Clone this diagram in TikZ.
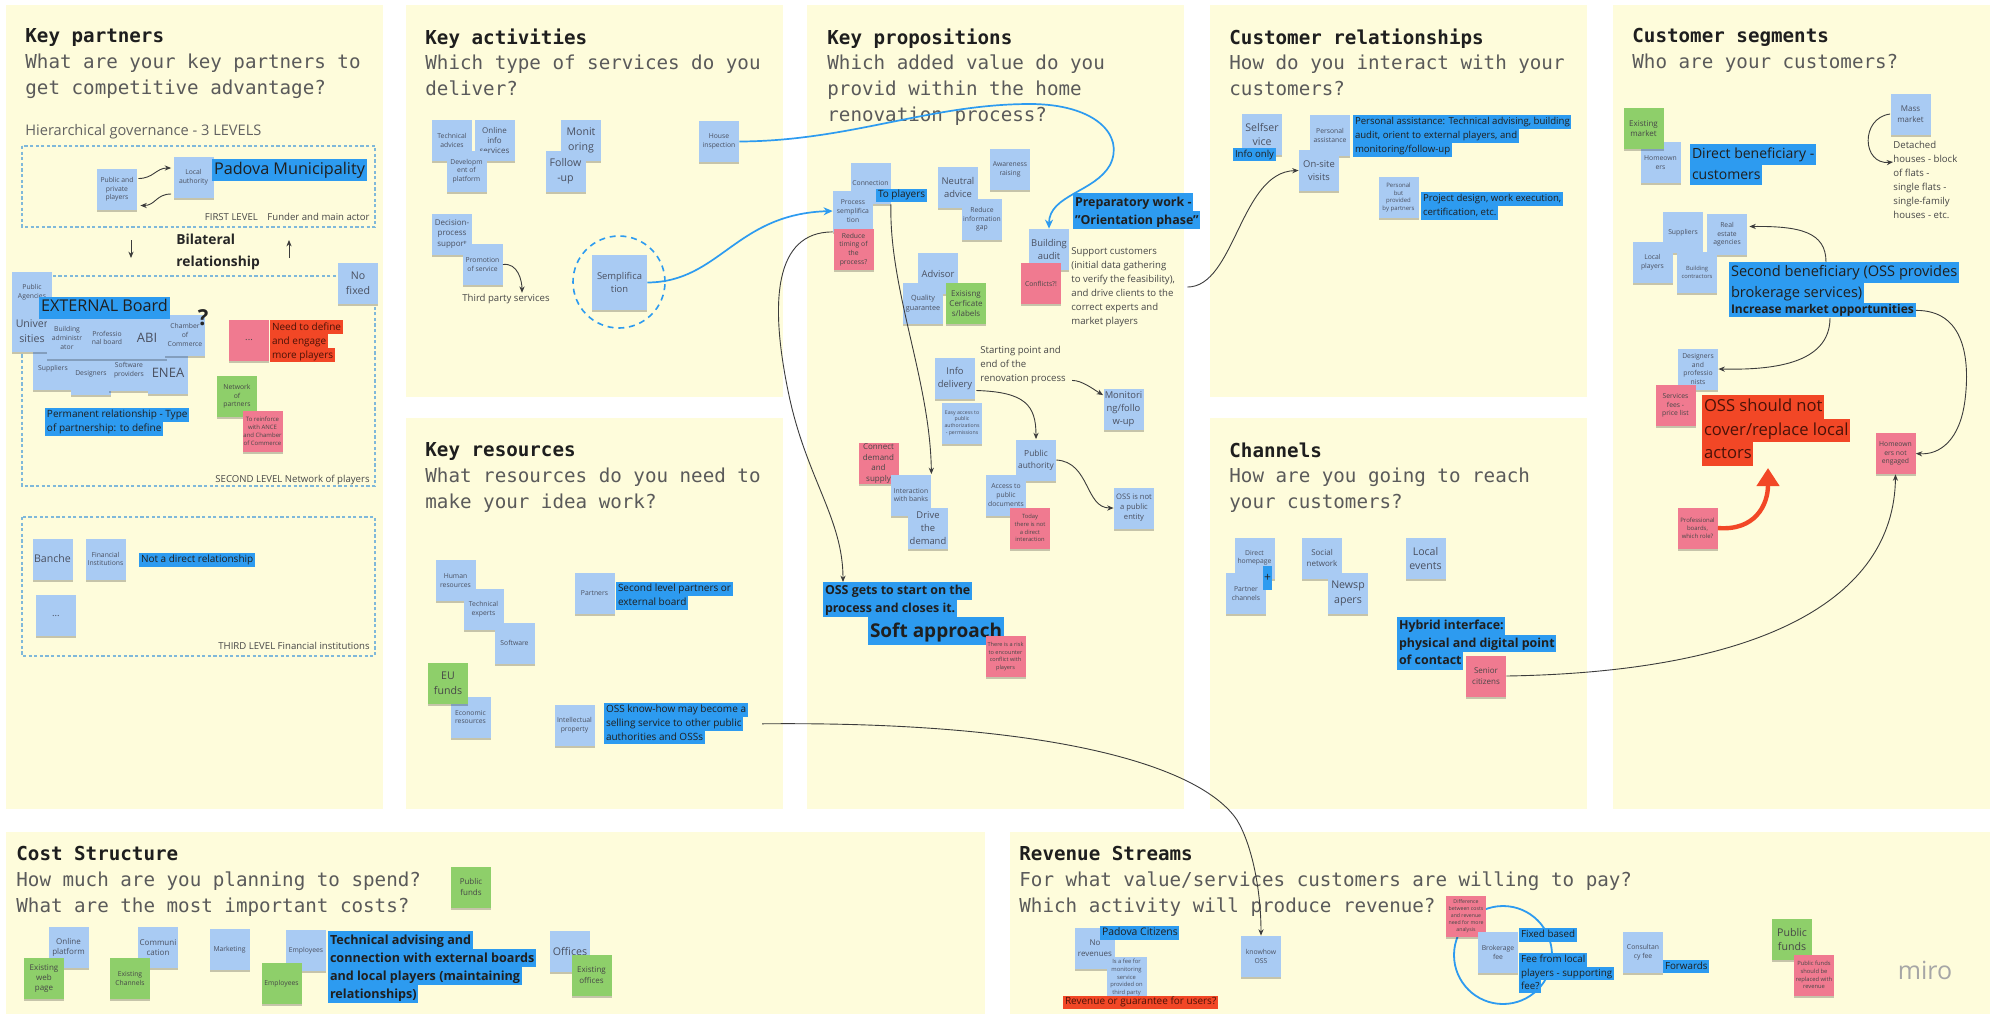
\documentclass[tikz,border=0pt]{standalone}
\usepackage{fontspec}
\setmainfont{Open Sans}
\newfontfamily\monofont{DejaVu Sans Mono}
\usetikzlibrary{arrows.meta,shadows,calc}
\setlength\fboxsep{0pt}
\definecolor{panel}{HTML}{FEFCDB}
\definecolor{stblue}{HTML}{A9CBF3}
\definecolor{stpink}{HTML}{F07A90}
\definecolor{stgreen}{HTML}{8ECF6A}
\definecolor{hlblue}{HTML}{2D9BF0}
\definecolor{hlred}{HTML}{F24726}
\definecolor{dashc}{HTML}{7FB8DA}
\definecolor{lineg}{HTML}{3C3C3C}
\definecolor{ttlc}{HTML}{1E1E1E}
\definecolor{subc}{HTML}{5A5A5A}
\definecolor{notetext}{HTML}{4A5060}
\definecolor{redtext}{HTML}{4A1208}
\newcommand\fsz[2]{\fontsize{#1}{#2}\selectfont}
\newcommand\hlB[1]{\colorbox{hlblue}{\strut\kern0.8pt#1\kern0.8pt}}
\newcommand\hlR[1]{\colorbox{hlred}{\strut\kern0.8pt#1\kern0.8pt}}
\tikzset{
 stnote/.style={rectangle, minimum width=20pt, minimum height=20.5pt, inner sep=0.3pt, align=center, text=notetext, font=\fsz{3.4}{4.3}, general shadow={fill=black, opacity=0.22, shadow yshift=-1.1pt}},
 stB/.style={stnote, fill=stblue},
 stP/.style={stnote, fill=stpink, text=black!72},
 stG/.style={stnote, fill=stgreen, text=black!72},
 fS/.style={font=\fsz{4}{5.2}},
 fM/.style={font=\fsz{4.7}{6.4}},
 fL/.style={font=\fsz{5.3}{7.4}},
 hlt/.style={anchor=north west, inner sep=0pt, align=left, text=black!88},
 hlw/.style={anchor=west, inner sep=0pt, text=black!88},
 lbltxt/.style={inner sep=0pt, text=black!72, font=\fsz{4.8}{7}},
 ttlnode/.style={anchor=north west, inner sep=0pt, align=left, font=\monofont\fsz{9.6}{12.9}, text=subc},
 gconn/.style={draw=lineg, line width=0.45pt, -{Stealth[length=3.2pt,width=2.6pt]}},
 bconn/.style={draw=hlblue, line width=0.85pt, -{Stealth[length=4.5pt,width=4pt]}},
 dbox/.style={draw=dashc, dash pattern=on 1.6pt off 1.2pt, line width=0.55pt},
}
\begin{document}
\begin{tikzpicture}[x=0.5pt,y=-0.5pt]
\useasboundingbox (0,0) rectangle (1992,1014);
\fill[white] (0,0) rectangle (1992,1014);
% panels
\fill[panel] (6,5) rectangle (383,809);
\fill[panel] (406,5) rectangle (783,397);
\fill[panel] (406,418) rectangle (783,809);
\fill[panel] (807,5) rectangle (1184,809);
\fill[panel] (1210,5) rectangle (1587,397);
\fill[panel] (1210,418) rectangle (1587,809);
\fill[panel] (1613,5) rectangle (1990,809);
\fill[panel] (6,832) rectangle (985,1014);
\fill[panel] (1010,832) rectangle (1990,1014);
% titles
\node[ttlnode] (tKP) at (25,28) {\textcolor{ttlc}{\bfseries Key partners}\\What are your key partners to\\get competitive advantage?};
\node[ttlnode] (tKA) at (425,28) {\textcolor{ttlc}{\bfseries Key activities}\\Which type of services do you\\deliver?};
\node[ttlnode] (tKR) at (425,442) {\textcolor{ttlc}{\bfseries Key resources}\\What resources do you need to\\make your idea work?};
\node[ttlnode] (tKV) at (827,28) {\textcolor{ttlc}{\bfseries Key propositions}\\Which added value do you\\provid within the home\\renovation process?};
\node[ttlnode] (tCR) at (1229,28) {\textcolor{ttlc}{\bfseries Customer relationships}\\How do you interact with your\\customers?};
\node[ttlnode] (tCH) at (1229,442) {\textcolor{ttlc}{\bfseries Channels}\\How are you going to reach\\your customers?};
\node[ttlnode] (tCS) at (1632,28) {\textcolor{ttlc}{\bfseries Customer segments}\\Who are your customers?};
\node[ttlnode] (tCO) at (16,846) {\textcolor{ttlc}{\bfseries Cost Structure}\\How much are you planning to spend?\\What are the most important costs?};
\node[ttlnode] (tRV) at (1019,846) {\textcolor{ttlc}{\bfseries Revenue Streams}\\For what value/services customers are willing to pay?\\Which activity will produce revenue?};

% ===== Key partners =====
\node[lbltxt, anchor=west, font=\fsz{7.3}{9}, text=black!62] (kpHier) at (25,132) {Hierarchical governance - 3 LEVELS};
\draw[dbox] (22,146) rectangle (375,227);
\draw[dbox] (22,276) rectangle (375,486);
\draw[dbox] (22,517) rectangle (375,656);
\node[stB] (kpPP) at (117,189.5) {Public and\\private\\players};
\node[stB] (kpLocal) at (193.5,177) {Local\\authority};
\node[hlw, font=\fsz{8.1}{11}] (kpPadova) at (212,170) {\hlB{Padova Municipality}};
\node[lbltxt, anchor=east] (kpL1) at (370,217) {FIRST LEVEL\quad Funder and main actor};
\coordinate (kpDn1) at (131,240); \coordinate (kpDn2) at (131,258);
\coordinate (kpUp1) at (289,258); \coordinate (kpUp2) at (289,240);
\node[anchor=north west, inner sep=0pt, align=left, font=\bfseries\fsz{6.9}{11}, text=black!85] (kpBil) at (176,234) {Bilateral\\relationship};
\node[stB, fL] (kpNoFixed) at (358,283) {No\\fixed};
\node[stB] (kpPubAg) at (32,292) {Public\\Agencies};
\node[stB] (kpSupp) at (53,369) {Suppliers};
\node[stB] (kpDesign) at (91,374) {Designers};
\node[stB] (kpSoft) at (129,370) {Software\\providers};
\node[stB, font=\fsz{6.5}{8}] (kpENEA) at (168,373) {ENEA};
\node[stB, fL] (kpUniv) at (32,331.5) {Univer\\sities};
\node[stB] (kpBuild) at (67,338) {Building\\administr\\ator};
\node[stB] (kpProf) at (107,338) {Professio\\nal board};
\node[stB, font=\fsz{6.5}{8}] (kpABI) at (147,338) {ABI};
\node[stB] (kpChamber) at (185,335) {Chamber\\of\\Commerce};
\node[hlw, font=\fsz{8.1}{11}] (kpExt) at (39,307.5) {\hlB{EXTERNAL Board}};
\node[inner sep=0pt, font=\bfseries\fsz{11}{13}, text=black!85] (kpQ) at (203,318) {?};
\node[stP, fM] (kpDots) at (249,340) {...};
\node[hlt, font=\fsz{5}{7}, text=redtext] (kpNeed) at (270,320) {\hlR{Need to define}\\\hlR{and engage}\\\hlR{more players}};
\node[stG] (kpNetwork) at (237,396.5) {Network\\of\\partners};
\node[stP, font=\fsz{3}{4}] (kpReinf) at (262.5,431) {To reinforce\\with ANCE\\and Chamber\\of Commerce};
\node[hlt, font=\fsz{5}{6.8}] (kpPerm) at (45,408) {\hlB{Permanent relationship - Type}\\\hlB{of partnership: to define}};
\node[lbltxt, anchor=east] (kpL2) at (370,480) {SECOND LEVEL Network of players};
\node[stB, fL] (kpBanche) at (52.5,559) {Banche};
\node[stB] (kpFin) at (105.5,559) {Financial\\Institutions};
\node[hlw, font=\fsz{5}{6.8}] (kpNotDirect) at (139,560) {\hlB{Not a direct relationship}};
\node[stB, fM] (kpDots2) at (56,615.5) {...};
\node[lbltxt, anchor=east] (kpL3) at (370,646) {THIRD LEVEL Financial institutions};

% ===== Key activities =====
\node[stB] (kaTech) at (452,140.5) {Technical\\advices};
\node[stB, fS] (kaOnline) at (494.5,140.5) {Online\\info\\services};
\node[stB] (kaDev) at (466.5,171) {Developm\\ent of\\platform};
\node[stB, fL] (kaMonit) at (581,140) {Monit\\oring};
\node[stB, fL] (kaFollow) at (565.5,171.5) {Follow\\-up};
\node[stB] (kaHouse) at (719,141.5) {House\\inspection};
\node[stB, fS] (kaDec) at (452,234) {Decision-\\process\\support};
\node[stB] (kaPromo) at (482.5,264.5) {Promotion\\of service};
\node[lbltxt] (kaThird) at (506,299) {Third party services};
\node[circle, draw=hlblue, dash pattern=on 3pt off 2.4pt, line width=0.8pt, minimum size=46pt, inner sep=0pt] (kaCircle) at (619,282) {};
\node[stB, fM, minimum width=27.5pt, minimum height=27.5pt] (kaSempl) at (619.5,282.5) {Semplifica\\tion};

% ===== Key resources =====
\node[stB] (krHuman) at (455.5,580.5) {Human\\resources};
\node[stB] (krTech) at (483.5,609.5) {Technical\\experts};
\node[stB] (krSoft) at (514.5,643) {Software};
\node[stB] (krEcon) at (470.5,717) {Economic\\resources};
\node[stG, fL] (krEU) at (448,683.5) {EU\\funds};
\node[stB] (krPartners) at (594.5,593.5) {Partners};
\node[hlt, font=\fsz{5}{6.8}] (krSecond) at (616,582) {\hlB{Second level partners or}\\\hlB{external board}};
\node[stB] (krIP) at (574.5,725) {Intellectual\\property};
\node[hlt, font=\fsz{5}{6.8}] (krOSS) at (604,703) {\hlB{OSS know-how may become a}\\\hlB{selling service to other public}\\\hlB{authorities and OSSs}};

% ===== Key propositions =====
\node[stB] (pConn) at (870.5,183.5) {Connection};
\node[stB] (pProc) at (853,211) {Process\\semplifica\\tion};
\node[hlw, font=\fsz{5}{6.5}] (pToPl) at (876,195) {\hlB{To players}};
\node[stP] (pReduce) at (853.5,249.5) {Reduce\\timing of\\the\\process?};
\node[stB, fM] (pNeutral) at (958,187.5) {Neutral\\advice};
\node[stB] (pAware) at (1010,169.5) {Awareness\\raising};
\node[stB] (pRedInfo) at (982,219.5) {Reduce\\information\\gap};
\node[stB, fM] (pAdvisor) at (938,273.5) {Advisor};
\node[stB, font=\fsz{3.6}{4.8}] (pQual) at (923,303.5) {Quality\\guarantee};
\node[stG, fS] (pExist) at (966,303.5) {Exisisng\\Cerficate\\s/labels};
\node[stB, fM] (pAudit) at (1049,249.5) {Building\\audit};
\node[stP] (pConfl) at (1041,283.5) {Conflicts?!};
\node[hlt, font=\bfseries\fsz{6.2}{9}] (pPrep) at (1073,193) {\hlB{Preparatory work -}\\\hlB{"Orientation phase"}};
\node[lbltxt, anchor=north west, align=left] (pSupport) at (1071,247) {Support customers\\(initial data gathering\\to verify the feasibility),\\and drive clients to the\\correct experts and\\market players};
\node[lbltxt, anchor=north west, align=left] (pStart) at (980,346) {Starting point and\\end of the\\renovation process};
\node[stB, fM] (pInfo) at (955,378.5) {Info\\delivery};
\node[stB, font=\fsz{2.6}{3.4}] (pEasy) at (962,423) {Easy access to\\public\\authorizations\\- permissions};
\node[stB, fM] (pMonFollow) at (1123.5,409) {Monitori\\ng/follo\\w-up};
\node[stB, font=\fsz{4.2}{6}] (pPublicAuth) at (1036,460) {Public\\authority};
\node[stB] (pAccess) at (1006,495) {Access to\\public\\documents};
\node[stP, font=\fsz{2.9}{3.9}] (pToday) at (1030,528) {Today\\there is not\\a direct\\interaction};
\node[stB, font=\fsz{3.8}{5}] (pNotPublic) at (1134,508) {OSS is not\\a public\\entity};
\node[stP, fS] (pConnect) at (878.5,463.5) {Connect\\demand\\and\\supply};
\node[stB] (pBanks) at (911,495) {Interaction\\with banks};
\node[stB, fM] (pDrive) at (928,528) {Drive\\the\\demand};
\node[hlt, font=\bfseries\fsz{6.2}{8.75}] (pOSSgets) at (823,582) {\hlB{OSS gets to start on the}\\\hlB{process and closes it.}};
\node[hlt, font=\bfseries\fsz{9.5}{14}] (pSoft) at (868,617) {\hlB{Soft approach}};
\node[stP, font=\fsz{2.8}{3.7}] (pRisk) at (1005.5,656.5) {There is a risk\\to encounter\\conflict with\\players};

% ===== Customer relationships =====
\node[stB, fL] (crSelf) at (1262,134.5) {Selfser\\vice};
\node[hlw, font=\fsz{4.8}{6.5}] (crInfo) at (1233,154.5) {\hlB{Info only}};
\node[stB] (crPers) at (1330,135.5) {Personal\\assistance};
\node[stB, fM] (crOnsite) at (1319,170.5) {On-site\\visits};
\node[hlt, font=\fsz{4.8}{6.85}] (crPA) at (1353,115) {\hlB{Personal assistance: Technical advising, building}\\\hlB{audit, orient to external players, and}\\\hlB{monitoring/follow-up}};
\node[stB, font=\fsz{3}{3.9}] (crPartners) at (1398.5,197.5) {Personal\\but\\provided\\by partners};
\node[hlt, font=\fsz{4.8}{6.8}] (crProj) at (1421,192) {\hlB{Project design, work execution,}\\\hlB{certification, etc.}};

% ===== Channels =====
\node[stB] (chDirect) at (1254.5,558) {Direct\\homepage};
\node[stB] (chPartner) at (1246,593.5) {Partner\\channels};
\node[fill=hlblue, minimum width=4.5pt, minimum height=12pt, inner sep=0pt, font=\fsz{6}{7}, text=black!85] (chPlus) at (1267.5,578) {+};
\node[stB, fS] (chSocial) at (1322,558) {Social\\network};
\node[stB, fL] (chNews) at (1348,593.5) {Newsp\\apers};
\node[stB, fL] (chLocal) at (1425.5,558.5) {Local\\events};
\node[hlt, font=\bfseries\fsz{6.2}{8.75}] (chHybrid) at (1397,617) {\hlB{Hybrid interface:}\\\hlB{physical and digital point}\\\hlB{of contact}};
\node[stP, fS] (chSenior) at (1486,676) {Senior\\citizens};

% ===== Customer segments =====
\node[stB] (csHomeowners) at (1660.5,162.5) {Homeown\\ers};
\node[stG, fS] (csExisting) at (1643.5,128.5) {Existing\\market};
\node[hlt, font=\fsz{7}{10.25}] (csDirect) at (1690,144) {\hlB{Direct beneficiary -}\\\hlB{customers}};
\node[stB, fS] (csMass) at (1910.5,114) {Mass\\market};
\node[lbltxt, anchor=north west, align=left] (csDetached) at (1893,141) {Detached\\houses - block\\of flats -\\single flats -\\single-family\\houses - etc.};
\node[stB] (csSupp) at (1683,232.5) {Suppliers};
\node[stB] (csReal) at (1727,234.5) {Real\\estate\\agencies};
\node[stB] (csLocal) at (1652.5,262.5) {Local\\players};
\node[stB, font=\fsz{2.9}{3.9}] (csBuild) at (1697,272) {Building\\contractors};
\node[hlt, font=\fsz{7.3}{10.25}] (csSecond) at (1729,262) {\hlB{Second beneficiary (OSS provides}\\\hlB{brokerage services)}};
\node[hlt, font=\bfseries\fsz{6}{7}] (csIncrease) at (1729,303) {\hlB{Increase market opportunities}};
\node[stB] (csDesign) at (1698,369) {Designers\\and\\professio\\nists};
\node[stP] (csServices) at (1675.5,405.5) {Services\\fees -\\price list};
\node[hlt, font=\fsz{8.3}{11.7}, text=redtext] (csOSSnot) at (1702,395) {\hlR{OSS should not}\\\hlR{cover/replace local}\\\hlR{actors}};
\node[stP] (csHomeNot) at (1895.5,453.5) {Homeown\\ers not\\engaged};
\node[stP, font=\fsz{3}{4}] (csProf) at (1697.5,528) {Professional\\boards,\\which role?};

% ===== Cost structure =====
\node[stG, fS] (coPublic) at (471,887) {Public\\funds};
\node[stB, fS] (coOnline) at (68.5,947.5) {Online\\platform};
\node[stG, fS] (coWeb) at (44,978.5) {Existing\\web\\page};
\node[stB, fS] (coComm) at (158,947.5) {Communi\\cation};
\node[stG] (coChan) at (130,978.5) {Existing\\Channels};
\node[stB] (coMark) at (229.5,949.5) {Marketing};
\node[stB] (coEmp) at (306,950.5) {Employees};
\node[stG] (coEmpG) at (281.5,983.5) {Employees};
\node[hlt, font=\bfseries\fsz{6.3}{9}] (coTech) at (328,931) {\hlB{Technical advising and}\\\hlB{connection with external boards}\\\hlB{and local players (maintaining}\\\hlB{relationships)}};
\node[stB, fL] (coOff) at (570,951) {Offices};
\node[stG, fS] (coOffE) at (591.5,975) {Existing\\offices};

% ===== Revenue streams =====
\node[stB, fS] (rvNoRev) at (1095,948) {No\\revenues};
\node[hlw, font=\fsz{5.2}{6.8}] (rvPadova) at (1100,933) {\hlB{Padova Citizens}};
\node[stB, font=\fsz{2.9}{3.9}] (rvFee) at (1126.5,977.5) {Is a fee for\\monitoring\\service\\provided on\\third party};
\node[hlw, font=\fsz{5}{6.5}, text=redtext] (rvRevG) at (1063,1002) {\hlR{Revenue or guarantee for users?}};
\node[stB] (rvKnow) at (1261,956.5) {knowhow\\OSS};
\node[circle, draw=hlblue, line width=0.9pt, minimum size=49pt, inner sep=0pt] (rvCircle) at (1503,955) {};
\node[stP, font=\fsz{2.6}{3.5}] (rvDiff) at (1466,916.5) {Difference\\between costs\\and revenue\\need for more\\analysis};
\node[stB] (rvBroker) at (1498,952.5) {Brokerage\\fee};
\node[hlw, font=\fsz{4.9}{6.6}] (rvFixed) at (1519,935) {\hlB{Fixed based}};
\node[hlt, font=\fsz{4.9}{6.65}] (rvFeeLocal) at (1519,953) {\hlB{Fee from local}\\\hlB{players - supporting}\\\hlB{fee?}};
\node[stB] (rvConsult) at (1643,952.5) {Consultan\\cy fee};
\node[hlw, font=\fsz{4.9}{6.6}] (rvForw) at (1663,966.5) {\hlB{Forwards}};
\node[stG, fL] (rvPublic) at (1792,939.5) {Public\\funds};
\node[stP, font=\fsz{2.9}{3.9}] (rvReplace) at (1814,975) {Public funds\\should be\\replaced with\\revenue};
\node[inner sep=0pt, font=\fsz{12.5}{14}, text=black!35] (miro) at (1925,970) {miro};

% ===== connectors =====
\draw[gconn] ($(kpPP.east)+(1,-11)$) .. controls +(15,0) and +(-15,0) .. ($(kpLocal.west)+(-2,-9)$);
\draw[gconn] ($(kpLocal.west)+(-2,17)$) .. controls +(-15,0) and +(15,0) .. ($(kpPP.east)+(3,16)$);
\draw[gconn] (kpDn1) -- (kpDn2);
\draw[gconn] (kpUp1) -- (kpUp2);
\draw[gconn] (kaPromo.east) .. controls +(15,-2) and +(0,-12) .. ($(kaThird.north)+(16,-1)$);
\draw[bconn] (kaHouse.east) .. controls (850,141) and (930,104) .. (1030,104) .. controls (1095,104) and (1125,135) .. (1110,165) .. controls (1095,192) and (1049,195) .. (pAudit.north);
\draw[bconn] (kaSempl.east) .. controls (720,282) and (735,214) .. (pProc.west);
\draw[gconn] (pProc.south west) .. controls (775,232) and (768,300) .. (790,400) .. controls (808,480) and (843,520) .. ($(pOSSgets.north west)+(20,0)$);
\draw[gconn] (pConn.south east) .. controls (889,290) and (930,380) .. (pBanks.north east);
\draw[gconn] ($(pInfo.east)+(1,12)$) .. controls (1025,392) and (1036,405) .. (pPublicAuth.north);
\draw[gconn] ($(pStart.south east)+(6,-4)$) .. controls +(10,0) and +(-10,-6) .. ($(pMonFollow.north west)+(0,7)$);
\draw[gconn] (pPublicAuth.east) .. controls (1090,462) and (1085,508) .. (pNotPublic.west);
\draw[gconn] ($(pSupport.east)+(12,0)$) .. controls (1235,287) and (1240,172) .. (crOnsite.west);
\draw[gconn] ($(krOSS.east)+(14,0)$) .. controls (1050,721) and (1200,765) .. (1237,820) .. controls (1252,845) and (1261,890) .. (rvKnow.north);
\draw[gconn] (chSenior.east) .. controls (1760,672) and (1894,600) .. (csHomeNot.south);
\draw[gconn] (csMass.west) .. controls (1860,118) and (1862,165) .. ($(csDetached.north west)+(0,21)$);
\draw[gconn] ($(csSecond.north west)+(97,0)$) .. controls (1826,232) and (1800,226) .. ($(csReal.east)+(2,-8)$);
\draw[gconn] ($(csIncrease.south west)+(101,0)$) .. controls (1830,365) and (1770,370) .. (csDesign.east);
\draw[gconn] (csIncrease.east) .. controls (1965,310) and (1970,360) .. (1965,400) .. controls (1960,440) and (1940,455) .. (csHomeNot.east);
\draw[draw=hlred, line width=2.2pt, -{Triangle[width=11pt,length=9pt]}] (csProf.east) .. controls (1755,531) and (1768,505) .. ($(csOSSnot.south west)+(66,2)$);
\end{tikzpicture}
\end{document}
